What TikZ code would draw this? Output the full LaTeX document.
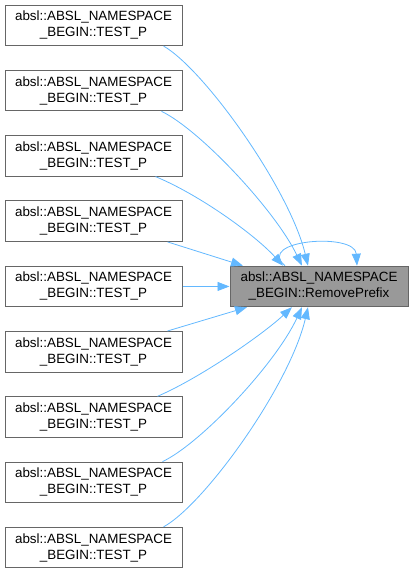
\documentclass[tikz,border=0pt]{standalone}
\usepackage{fontspec}
\setmainfont{Liberation Sans}
\usetikzlibrary{arrows.meta}
\definecolor{edgeblue}{HTML}{63B8FF}
\definecolor{frame}{HTML}{666666}
\definecolor{focus}{HTML}{999999}
\tikzset{
  fnbox/.style={draw=frame,fill=white,line width=1pt,minimum width=177pt,minimum height=40.5pt,inner sep=0pt,align=center,font=\fontsize{13.4}{16}\selectfont},
  callarrow/.style={draw=edgeblue,line width=0.8pt,-{Triangle[length=12pt,width=9pt]}}
}
\begin{document}
\begin{tikzpicture}[x=1pt,y=-1pt]
\useasboundingbox (0,0) rectangle (413,574);
\node[fnbox] (caller1) at (93.5,25.25) {absl::ABSL\_NAMESPACE\\\_BEGIN::TEST\_P};
\node[fnbox] (caller2) at (93.5,90.55) {absl::ABSL\_NAMESPACE\\\_BEGIN::TEST\_P};
\node[fnbox] (caller3) at (93.5,155.85) {absl::ABSL\_NAMESPACE\\\_BEGIN::TEST\_P};
\node[fnbox] (caller4) at (93.5,221.15) {absl::ABSL\_NAMESPACE\\\_BEGIN::TEST\_P};
\node[fnbox] (caller5) at (93.5,286.45) {absl::ABSL\_NAMESPACE\\\_BEGIN::TEST\_P};
\node[fnbox] (caller6) at (93.5,351.75) {absl::ABSL\_NAMESPACE\\\_BEGIN::TEST\_P};
\node[fnbox] (caller7) at (93.5,417.05) {absl::ABSL\_NAMESPACE\\\_BEGIN::TEST\_P};
\node[fnbox] (caller8) at (93.5,482.35) {absl::ABSL\_NAMESPACE\\\_BEGIN::TEST\_P};
\node[fnbox] (caller9) at (93.5,547.65) {absl::ABSL\_NAMESPACE\\\_BEGIN::TEST\_P};
\node[fnbox,fill=focus,minimum width=178pt] (removeprefix) at (319,286.45) {absl::ABSL\_NAMESPACE\\\_BEGIN::RemovePrefix};
% callers above
\draw[callarrow] ([xshift=-19pt]caller1.south east) .. controls (205,70) and (290,190) .. ([xshift=-11pt]removeprefix.north);
\draw[callarrow] ([xshift=-21pt]caller2.south east) .. controls (200,130) and (275,210) .. ([xshift=-17pt]removeprefix.north);
\draw[callarrow] ([xshift=-27pt]caller3.south east) .. controls (200,195) and (255,235) .. ([xshift=-36pt]removeprefix.north);
\draw[callarrow] ([xshift=-15pt]caller4.south east) -- ([xshift=-76pt]removeprefix.north);
\draw[callarrow] (caller5.east) -- (removeprefix.west);
% callers below
\draw[callarrow] ([xshift=-15pt]caller6.north east) -- ([xshift=-72pt]removeprefix.south);
\draw[callarrow] ([xshift=-25pt]caller7.north east) .. controls (200,378) and (262,335) .. ([xshift=-27pt]removeprefix.south);
\draw[callarrow] ([xshift=-20pt]caller8.north east) .. controls (200,444) and (275,365) .. ([xshift=-17pt]removeprefix.south);
\draw[callarrow] ([xshift=-19pt]caller9.north east) .. controls (205,504) and (290,385) .. ([xshift=-11pt]removeprefix.south);
% recursion
\draw[callarrow] ([xshift=-34pt]removeprefix.north) .. controls (255,240) and (355,232) .. ([xshift=38pt]removeprefix.north);
\end{tikzpicture}
\end{document}
